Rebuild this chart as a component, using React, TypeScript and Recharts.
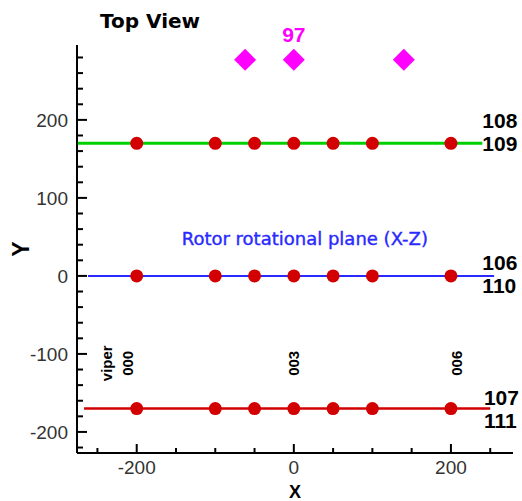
import React from 'react';
import { ComposedChart, XAxis, YAxis, Scatter, Label, Customized } from 'recharts';

// Probe stations along X, repeated on three rows (Y positions)
const probeX = [-200, -100, -50, 0, 50, 100, 200];
const upperRowY = [170, 170, 170, 170, 170, 170, 170];
const planeRowY = [0, 0, 0, 0, 0, 0, 0];
const lowerRowY = [-170, -170, -170, -170, -170, -170, -170];

// Reference lines through each row: [start x, end x], row y
const lineRowY = [170, 0, -170];
const lineStartX = [-275, -262, -267];
const lineEndX = [240, 255, 250];

// Diamond markers above the rotor
const markerX = [-62, 0, 140];
const markerY = [277, 277, 277];
const markerTag = '97';

// Row tags at the right end of each line
const rowTagX = [240, 240, 242];
const rowTagY = [185, 3, -170];
const rowTagTop = ['108', '106', '107'];
const rowTagBottom = ['109', '110', '111'];

// Vertical station tags above the lower row
const stationTagX = [-238, -212, 0, 207];
const stationTagY = [-112, -112, -112, -112];
const stationTagText = ['viper', '000', '003', '006'];

// Plane caption
const captionX = [14];
const captionY = [40];
const captionText = ['Rotor rotational plane (X-Z)'];

// Axis ticks
const xTicks = [-250, -200, -150, -100, -50, 0, 50, 100, 150, 200, 250];
const xMajor = [-200, 0, 200];
const yTicks = [-220, -200, -180, -160, -140, -120, -100, -80, -60, -40, -20, 0, 20, 40, 60, 80, 100, 120, 140, 160, 180, 200, 220, 240, 260, 280];
const yMajor = [-200, -100, 0, 100, 200];

const xDomain: [number, number] = [-276, 279];
const yDomain: [number, number] = [-227, 296];

const row = (ys: number[]) => probeX.map((x, i) => ({ x, y: ys[i] }));
const segment = (i: number) => [
  { x: lineStartX[i], y: lineRowY[i] },
  { x: lineEndX[i], y: lineRowY[i] },
];

const markers = markerX.map((x, i) => ({ x, y: markerY[i], tag: x === 0 ? markerTag : '' }));
const rowTags = rowTagX.map((x, i) => ({ x, y: rowTagY[i], top: rowTagTop[i], bottom: rowTagBottom[i] }));
const stationTags = stationTagX.map((x, i) => ({ x, y: stationTagY[i], text: stationTagText[i] }));
const captions = captionX.map((x, i) => ({ x, y: captionY[i], text: captionText[i] }));

const SANS = '"Liberation Sans", Arial, sans-serif';
const DEJAVU = '"DejaVu Sans", sans-serif';

const RED = '#d20000';
const BLUE = '#2a2aff';

const YTick = (props: any) => {
  const { x, y, payload } = props;
  const v = payload.value;
  const major = yMajor.includes(v);
  return (
    <g>
      <line x1={x} x2={x + (major ? 10 : 6)} y1={y} y2={y} stroke="#000" strokeWidth={2} />
      {major && (
        <text x={x - 9} y={y} dy="0.36em" textAnchor="end" fontFamily={SANS} fontSize={19} fill="#333">
          {v}
        </text>
      )}
    </g>
  );
};

const XTick = (props: any) => {
  const { x, y, payload } = props;
  const v = payload.value;
  const major = xMajor.includes(v);
  return (
    <g>
      <line x1={x} x2={x} y1={y} y2={y - (major ? 9 : 5)} stroke="#000" strokeWidth={2} />
      {major && (
        <text x={x} y={y + 21} textAnchor="middle" fontFamily={SANS} fontSize={19} fill="#333">
          {v}
        </text>
      )}
    </g>
  );
};

const Dot = (props: any) => <circle cx={props.cx} cy={props.cy} r={6.5} fill={RED} />;

const Diamond = (props: any) => {
  const { cx, cy, payload } = props;
  const h = 11;
  return (
    <g>
      <polygon points={`${cx},${cy - h} ${cx + h},${cy} ${cx},${cy + h} ${cx - h},${cy}`} fill="#ff00ff" />
      {payload && payload.tag && (
        <text x={cx} y={cy - 18} textAnchor="middle" fontFamily={SANS} fontWeight="bold" fontSize={21} fill="#ff00ff">
          {payload.tag}
        </text>
      )}
    </g>
  );
};

const RowTag = (props: any) => {
  const { cx, cy, payload } = props;
  return (
    <g fontFamily={SANS} fontWeight="bold" fontSize={21} fill="#000">
      <text x={cx} y={cy - 4}>{payload.top}</text>
      <text x={cx} y={cy + 19}>{payload.bottom}</text>
    </g>
  );
};

const StationTag = (props: any) => {
  const { cx, cy, payload } = props;
  return (
    <text
      x={cx}
      y={cy}
      dy="0.36em"
      textAnchor="middle"
      transform={`rotate(-90 ${cx} ${cy})`}
      fontFamily={SANS}
      fontWeight="bold"
      fontSize={15}
      fill="#000"
    >
      {payload.text}
    </text>
  );
};

const Caption = (props: any) => {
  const { cx, cy, payload } = props;
  return (
    <text x={cx} y={cy} textAnchor="middle" fontFamily={DEJAVU} fontSize={18} fill={BLUE} stroke={BLUE} strokeWidth={0.4}>
      {payload.text}
    </text>
  );
};

const NoShape = () => <g />;

const Title = () => (
  <text x={100} y={28} fontFamily={DEJAVU} fontWeight="bold" fontSize={20} fill="#000">
    Top View
  </text>
);

export default function App() {
  return (
    <div style={{ position: 'absolute', left: 0, top: 0, background: '#fff' }}>
      <ComposedChart width={522} height={501} margin={{ top: 45, right: 9, bottom: 8, left: 17 }}>
        <XAxis
          type="number"
          dataKey="x"
          domain={xDomain}
          ticks={xTicks}
          interval={0}
          tickSize={0}
          tickMargin={0}
          tick={<XTick />}
          height={40}
          axisLine={{ stroke: '#000', strokeWidth: 2 }}
        >
          <Label
            content={(p: any) => {
              const vb = p.viewBox;
              return (
                <text x={vb.x + vb.width / 2} y={vb.y + vb.height + 5} textAnchor="middle" fontFamily={SANS} fontWeight="bold" fontSize={18} fill="#000">
                  X
                </text>
              );
            }}
          />
        </XAxis>
        <YAxis
          type="number"
          dataKey="y"
          domain={yDomain}
          ticks={yTicks}
          interval={0}
          tickSize={0}
          tickMargin={0}
          tick={<YTick />}
          width={60}
          axisLine={{ stroke: '#000', strokeWidth: 2 }}
        >
          <Label
            content={(p: any) => {
              const vb = p.viewBox;
              const cx = vb.x + 4;
              const cy = vb.y + vb.height / 2;
              return (
                <text x={cx} y={cy} dy="0.36em" textAnchor="middle" transform={`rotate(-90 ${cx} ${cy})`} fontFamily={SANS} fontWeight="bold" fontSize={23} fill="#000">
                  Y
                </text>
              );
            }}
          />
        </YAxis>

        <Scatter data={segment(0)} line={{ stroke: '#00d000', strokeWidth: 3 }} shape={<NoShape />} isAnimationActive={false} />
        <Scatter data={segment(1)} line={{ stroke: BLUE, strokeWidth: 2 }} shape={<NoShape />} isAnimationActive={false} />
        <Scatter data={segment(2)} line={{ stroke: RED, strokeWidth: 2.5 }} shape={<NoShape />} isAnimationActive={false} />

        <Scatter data={row(upperRowY)} shape={<Dot />} isAnimationActive={false} />
        <Scatter data={row(planeRowY)} shape={<Dot />} isAnimationActive={false} />
        <Scatter data={row(lowerRowY)} shape={<Dot />} isAnimationActive={false} />

        <Scatter data={markers} shape={<Diamond />} isAnimationActive={false} />
        <Scatter data={rowTags} shape={<RowTag />} isAnimationActive={false} />
        <Scatter data={stationTags} shape={<StationTag />} isAnimationActive={false} />
        <Scatter data={captions} shape={<Caption />} isAnimationActive={false} />

        <Customized component={<Title />} />
      </ComposedChart>
    </div>
  );
}
